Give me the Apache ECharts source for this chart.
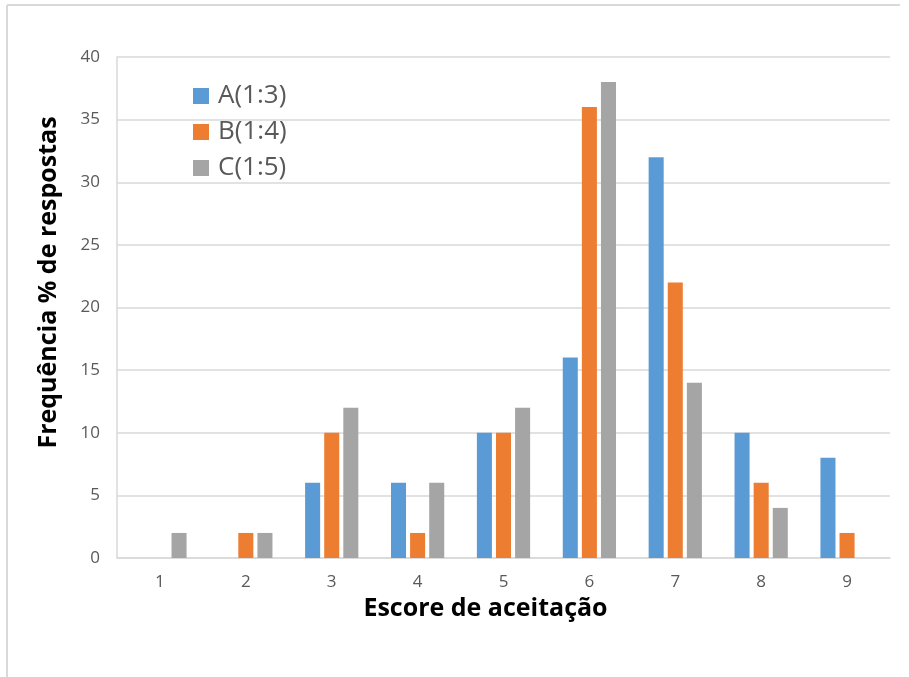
<!DOCTYPE html>
<html>
<head>
<meta charset="utf-8">
<script src="https://cdn.jsdelivr.net/npm/echarts@6/dist/echarts.min.js"></script>
<style>html,body{margin:0;padding:0;background:#fff;}#c{width:909px;height:677px;}</style>
</head>
<body>
<div id="c"></div>
<script>
var categories = ['1','2','3','4','5','6','7','8','9'];
var seriesNames = ['A(1:3)','B(1:4)','C(1:5)'];
var valuesA = [0,0,6,6,10,16,32,10,8];
var valuesB = [0,2,10,2,10,36,22,6,2];
var valuesC = [2,2,12,6,12,38,14,4,0];
var colors = ['#5B9BD5','#ED7D31','#A5A5A5'];

var chart = echarts.init(document.getElementById('c'), null, {renderer:'canvas'});
var font = '"Open Sans", "Noto Sans", sans-serif';
var mk = function(name, data, color){
  return {name:name, type:'bar', data:data, barGap:'27%', barCategoryGap:'38%',
    itemStyle:{color:color}};
};
chart.setOption({
  animation:false,
  graphic:[
    {type:'line', shape:{x1:7,y1:5,x2:900,y2:5}, style:{stroke:'#d9d9d9',lineWidth:2}},
    {type:'line', shape:{x1:7,y1:5,x2:7,y2:677}, style:{stroke:'#d9d9d9',lineWidth:2}}
  ],
  grid:{left:117,right:19,top:57,bottom:119,containLabel:false},
  legend:{orient:'vertical', left:188, top:76, itemWidth:16, itemHeight:16, itemGap:6,
    icon:'rect', textStyle:{fontSize:26, color:'#595959', fontFamily:font, lineHeight:30, padding:[0,0,0,4]},
    data:seriesNames},
  xAxis:{type:'category', data:categories,
    name:'Escore de aceitação', nameLocation:'middle', nameGap:36,
    nameTextStyle:{fontSize:25, fontWeight:'bold', color:'#000', fontFamily:font, padding:[0,36,0,0]},
    axisLine:{lineStyle:{color:'#d9d9d9', width:1.5}},
    axisTick:{show:false},
    axisLabel:{fontSize:17, color:'#595959', margin:16, fontFamily:font}},
  yAxis:{type:'value', min:0, max:40, interval:5,
    name:'Frequência % de respostas', nameLocation:'middle', nameGap:56,
    nameTextStyle:{fontSize:25, fontWeight:'bold', color:'#000', fontFamily:font, padding:[0,0,0,50]},
    axisLine:{show:true, lineStyle:{color:'#d9d9d9', width:1.5}},
    axisTick:{show:false},
    splitLine:{lineStyle:{color:'#d9d9d9', width:1.5}},
    axisLabel:{fontSize:17, color:'#595959', margin:17, fontFamily:font}},
  series:[mk(seriesNames[0],valuesA,colors[0]), mk(seriesNames[1],valuesB,colors[1]), mk(seriesNames[2],valuesC,colors[2])]
});
</script>
</body>
</html>
